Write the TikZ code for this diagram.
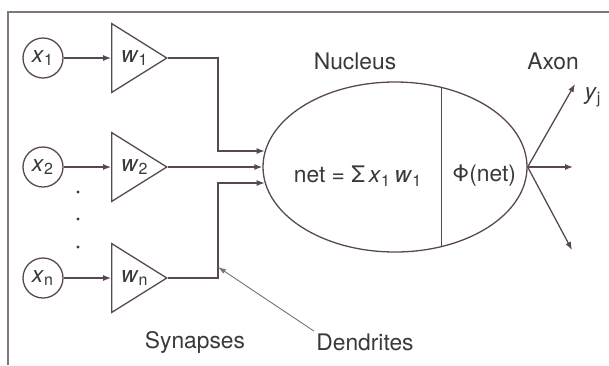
\documentclass[tikz,border=0pt]{standalone}
\usepackage{fontspec}
\setmainfont{TeX Gyre Heros}
\usetikzlibrary{arrows.meta,positioning,shapes.geometric}
\usepackage{xcolor}
\definecolor{Ink}{HTML}{5A4756}
\definecolor{Script}{HTML}{3A383A}
\definecolor{Pointer}{HTML}{77717A}
\newcommand{\vsub}[2]{\textit{#1}\textsubscript{#2}}

\begin{document}
\begin{tikzpicture}[x=0.5pt, y=-0.5pt,
  every node/.style={font=\fontsize{11.4}{13}\selectfont, text=Script},
  innode/.style={circle, draw=Ink, line width=0.65pt, minimum size=20pt, inner sep=0pt},
  synbox/.style={isosceles triangle, isosceles triangle apex angle=64, draw=Ink, line width=0.65pt,
                 minimum height=27.5pt, inner sep=0pt, anchor=apex},
  wire/.style={draw=Ink, line width=0.65pt, -{Latex[length=4pt,width=3pt]}},
  node distance=0.4cm
]
  \useasboundingbox (0,0) rectangle (609,365);
  \draw[Ink!75, line width=0.6pt] (8,365) -- (8,12) -- (609,12);

  \node[innode] (x1) at (43,58)  {\vsub{x}{1}};
  \node[innode] (x2) at (43,167) {\vsub{x}{2}};
  \node[innode] (xn) at (43,278) {\vsub{x}{n}};
  \node[synbox, label={[xshift=2pt]center:\vsub{w}{1}}] (w1) at (168,58)  {};
  \node[synbox, label={[xshift=2pt]center:\vsub{w}{2}}] (w2) at (168,167) {};
  \node[synbox, label={[xshift=2pt]center:\vsub{w}{n}}] (wn) at (168,278) {};
  \foreach \y in {192,219,247}
    \fill[Script] (78,\y) circle (0.8pt);

  \draw[wire] (x1.east) -- (w1.west);
  \draw[wire] (x2.east) -- (w2.west);
  \draw[wire] (xn.east) -- (wn.west);

  \node[ellipse, draw=Ink, line width=0.65pt, minimum width=132pt, minimum height=85pt,
        inner sep=0pt] (cell) at (395,167) {};
  \draw[Ink, line width=0.65pt] (cell.60) -- (cell.-60);
  \node (net) at (358,176) {net = Σ\,\vsub{x}{1}\,\vsub{w}{1}};
  \node (phi) at (484,176) {Φ(net)};

  \draw[wire] (w1.apex) -- ++(50,0) |- (cell.173);
  \draw[wire] (w2.apex) -- (cell.west);
  \coordinate (tap) at (218,267);
  \draw[wire] (wn.apex) -- ++(50,0) |- (cell.187);

  \coordinate (up)   at (575,84);
  \coordinate (mid)  at (573,167);
  \coordinate (down) at (572,250);
  \draw[wire] (cell.east) -- (up);
  \draw[wire] (cell.east) -- (mid);
  \draw[wire] (cell.east) -- (down);

  \node (nucleus) at (355,61)  {Nucleus};
  \node (axon)    at (553,61)  {Axon};
  \node (yj)      at (593,97)  {\vsub{y}{j}};
  \node (syn)     at (195,342) {Synapses};
  \node[inner sep=1pt] (dend) at (365,342) {Dendrites};
  \draw[Pointer, line width=0.45pt, -{Latex[length=4pt,width=2.6pt]}] (dend.north west) -- (tap);
\end{tikzpicture}
\end{document}
